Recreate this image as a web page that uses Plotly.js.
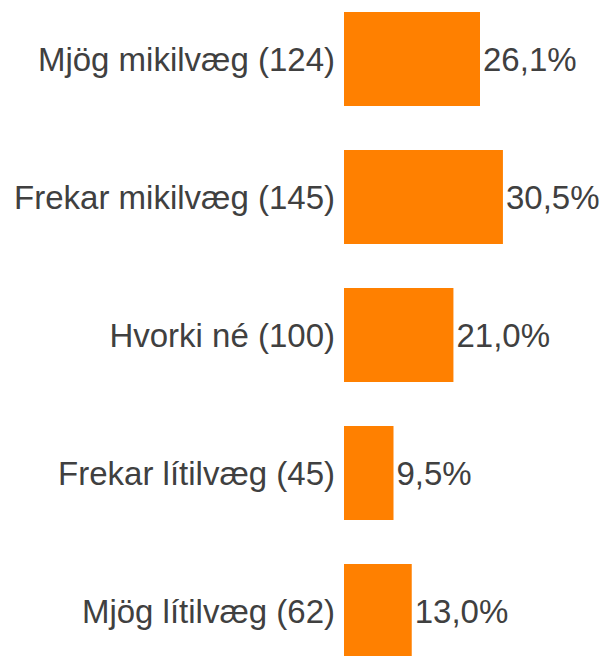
<!DOCTYPE html>
<html>
<head>
<meta charset="utf-8">
<script src="https://cdn.plot.ly/plotly-3.0.1.min.js"></script>
<style>html,body{margin:0;padding:0;background:#fff;}#chart{width:606px;height:656px;}</style>
</head>
<body>
<div id="chart"></div>
<script>
var categories = ["Mjög mikilvæg", "Frekar mikilvæg", "Hvorki né", "Frekar lítilvæg", "Mjög lítilvæg"];
var counts = [124, 145, 100, 45, 62];
var percents = [26.1, 30.5, 21.0, 9.5, 13.0];

var labels = categories.map(function (c, i) { return c + " (" + counts[i] + ")"; });
var valueText = percents.map(function (p) { return p.toFixed(1).replace(".", ",") + "%"; });

var FONT = "'Liberation Sans', Arial, sans-serif";

var trace = {
  type: "bar",
  orientation: "h",
  y: labels,
  x: percents,
  text: valueText,
  textposition: "outside",
  cliponaxis: false,
  constraintext: "none",
  textfont: {family: FONT, size: 33, color: "#404040"},
  marker: {color: "#FF8000"},
  hoverinfo: "none"
};

var layout = {
  width: 606,
  height: 656,
  margin: {l: 344, r: 0, t: 0, b: 0, pad: 0},
  paper_bgcolor: "#ffffff",
  plot_bgcolor: "#ffffff",
  showlegend: false,
  bargap: 0.319,
  font: {family: FONT, size: 33, color: "#404040"},
  xaxis: {range: [0, 50.28], visible: false, showgrid: false, zeroline: false, fixedrange: true},
  yaxis: {
    type: "category",
    categoryorder: "array",
    categoryarray: labels,
    range: [4.326, -0.4275],
    automargin: false,
    showgrid: false,
    zeroline: false,
    showline: false,
    ticks: "",
    ticklabelstandoff: 8,
    tickfont: {family: FONT, size: 33, color: "#404040"}
  }
};

Plotly.newPlot("chart", [trace], layout, {displayModeBar: false, staticPlot: true});
</script>
</body>
</html>
